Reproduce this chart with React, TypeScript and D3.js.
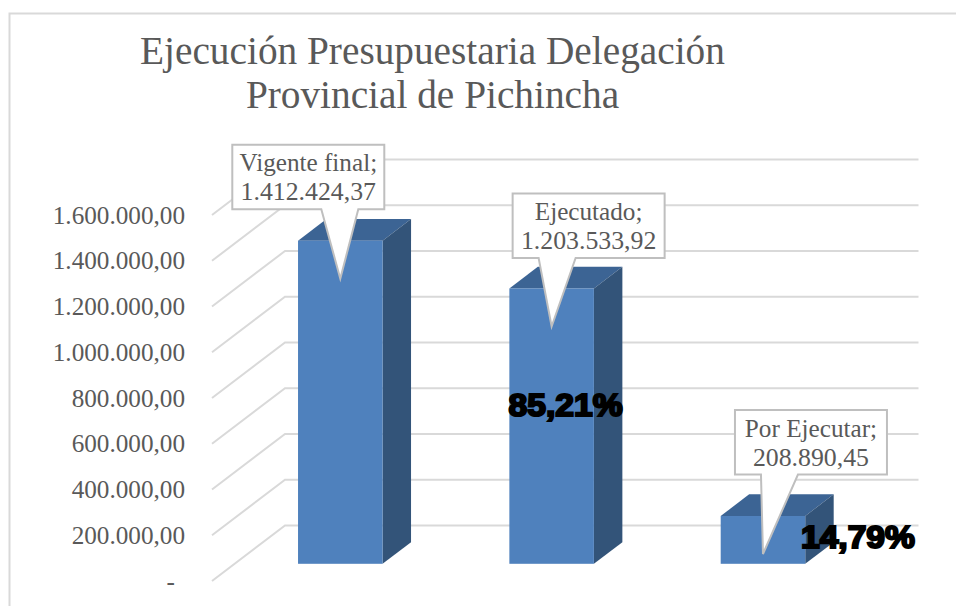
import React from "react";
import * as d3 from "d3";

const categories = ["Vigente final", "Ejecutado", "Por Ejecutar"];
const values = [1412424.37, 1203533.92, 208890.45];
const valueLabels = ["1.412.424,37", "1.203.533,92", "208.890,45"];
const percentLabels = [null, "85,21%", "14,79%"];
const tickValues = [0, 200000, 400000, 600000, 800000, 1000000, 1200000, 1400000, 1600000];
const tickLabels = ["-", "200.000,00", "400.000,00", "600.000,00", "800.000,00", "1.000.000,00", "1.200.000,00", "1.400.000,00", "1.600.000,00"];
const titleLines = ["Ejecución Presupuestaria Delegación", "Provincial de Pichincha"];

// callout box position relative to the bar's tip point
const calloutDx = [-108, -39, -28];
const calloutTailDx = [-19, -13, -2];
const calloutRise = [134, 133, 144];
const percentPos = [null, { dx: 14, y: 415.5 }, { dx: 95, y: 547.5 }];

const width = 956;
const height = 606;
const serif = "'Liberation Serif', serif";
const textColor = "#595959";
const gridColor = "#d9d9d9";

// oblique depth of the 3D floor
const depthX = 73;
const depthY = 55.5;
const barDepthStart = 0.31;
const barDepthEnd = 0.7;

const App = () => {
  const y = d3.scaleLinear().domain([0, 1600000]).range([581, 215]);
  const x = d3.scaleBand().domain(categories).range([212, 846]).paddingInner(0.6).paddingOuter(0.3);
  const bw = x.bandwidth();
  const barDx = depthX * barDepthStart;
  const barDy = depthY * barDepthStart;
  const sideDx = depthX * (barDepthEnd - barDepthStart);
  const sideDy = depthY * (barDepthEnd - barDepthStart);

  return (
    <svg width={width} height={height} style={{ position: "absolute", left: 0, top: 0, background: "#fff" }}>
      {/* chart frame */}
      <path d={`M9.5,606 V13.5 H${width}`} fill="none" stroke={gridColor} strokeWidth={2} />

      {titleLines.map((t, i) => (
        <text key={t} x={432.5} y={64 + i * 44} textAnchor="middle" fontFamily={serif} fontSize={39.3} fill={textColor}>
          {t}
        </text>
      ))}

      {/* gridlines: wall and left side */}
      {tickValues.map((t) => (
        <path
          key={t}
          d={`M212,${y(t)} L${212 + depthX},${y(t) - depthY} H918.5`}
          fill="none"
          stroke={gridColor}
          strokeWidth={2}
        />
      ))}

      {/* axis labels */}
      {tickValues.map((t, i) => (
        <text
          key={t}
          x={i === 0 ? 175 : 185}
          y={y(t) + 8.5}
          textAnchor="end"
          fontFamily={serif}
          fontSize={25.2}
          fill={textColor}
        >
          {tickLabels[i]}
        </text>
      ))}

      {/* bars */}
      {categories.map((c, i) => {
        const x0 = (x(c) as number) + barDx;
        const base = y(0) - barDy;
        const top = y(values[i]) - barDy;
        return (
          <g key={c}>
            <path
              d={`M${x0},${top} h${bw} l${sideDx},${-sideDy} h${-bw} Z`}
              fill="#3c6494"
            />
            <path
              d={`M${x0 + bw},${top} l${sideDx},${-sideDy} V${base - sideDy} l${-sideDx},${sideDy} Z`}
              fill="#335479"
            />
            <rect x={x0} y={top} width={bw} height={base - top} fill="#4f81bd" />
          </g>
        );
      })}

      {/* callouts */}
      {categories.map((c, i) => {
        const tipX = (x(c) as number) + barDx + bw / 2;
        const tipY = y(values[i]) - barDy + 38;
        const boxX = tipX + calloutDx[i];
        const boxW = 152;
        const boxH = 64.5;
        const boxY = tipY - calloutRise[i];
        const tail = tipX + calloutTailDx[i];
        const cx = boxX + boxW / 2;
        return (
          <g key={c}>
            <path
              d={`M${boxX},${boxY} h${boxW} v${boxH} H${tail + 37} L${tipX},${tipY} L${tail},${boxY + boxH} H${boxX} Z`}
              fill="#fff"
              stroke="#bfbfbf"
              strokeWidth={2}
            />
            <text x={cx} y={boxY + 26.5} textAnchor="middle" fontFamily={serif} fontSize={25.2} fill={textColor}>
              {c};
            </text>
            <text x={cx} y={boxY + 55.5} textAnchor="middle" fontFamily={serif} fontSize={25.8} fill={textColor}>
              {valueLabels[i]}
            </text>
          </g>
        );
      })}

      {/* percentages typed over the bars */}
      {categories.map((c, i) => {
        const p = percentPos[i];
        if (!p) return null;
        return (
          <text
            key={c}
            x={(x(c) as number) + barDx + bw / 2 + p.dx}
            y={p.y}
            textAnchor="middle"
            textLength={114}
            lengthAdjust="spacingAndGlyphs"
            fontFamily="'Liberation Sans', sans-serif"
            fontWeight={700}
            fontSize={31}
            fill="#000"
            stroke="#000"
            strokeWidth={2.1}
          >
            {percentLabels[i]}
          </text>
        );
      })}
    </svg>
  );
};

export default App;
